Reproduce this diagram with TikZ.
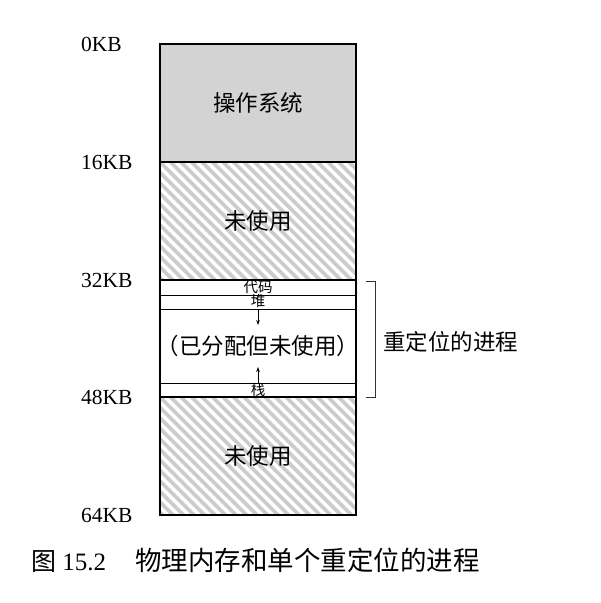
\documentclass[tikz,border=0pt]{standalone}
\usepackage{fontspec}
\usetikzlibrary{arrows.meta}
\setmainfont{Liberation Serif}
\newfontfamily\cjk{Noto Sans CJK SC}
\definecolor{osgray}{RGB}{211,211,211}
\definecolor{hatchgray}{RGB}{204,204,204}
\begin{document}
\begin{tikzpicture}[>={Stealth[length=5pt,width=3.6pt]}, x=1pt, y=-1pt,
    region/.style={draw, line width=1.5pt, minimum width=196pt, minimum height=118pt,
      inner sep=0pt, font=\cjk\fontsize{22.5}{22.5}\selectfont},
    hatched/.style={path picture={
      \foreach \i in {-126,-115.5,...,200}
        \draw[hatchgray, line width=3.6pt] ([xshift=\i pt]path picture bounding box.north west) -- ++(130,130);}},
    band/.style={draw, line width=0.6pt, minimum width=196pt, inner sep=0pt},
    big/.style={inner sep=0pt, font=\cjk\fontsize{22.5}{22.5}\selectfont},
    small/.style={inner sep=0pt, font=\cjk\fontsize{14.5}{14.5}\selectfont},
    addr/.style={anchor=west, inner sep=0pt, font=\fontsize{21.5}{21.5}\selectfont}]
    \useasboundingbox (0,0) rectangle (601,603);

    % memory regions
    \node[region, fill=osgray] (os) at (258,103) {操作系统};
    \node[region, hatched] (free1) at (258,221) {未使用};
    \node[band, minimum height=15pt] (code) at (258,287.5) {};
    \node[band, minimum height=14pt] (heap) at (258,302) {};
    \node[band, minimum height=14pt] (stack) at (258,390) {};
    \node[region, minimum height=117pt] (proc) at (258,338.5) {};
    \node[region, hatched] (free2) at (258,456) {未使用};

    \node[big] (proctext) at (258,346) {（已分配但未使用）};
    \node[small] (codelbl) at (258,287) {代码};
    \node[small] (heaplbl) at (258,301) {堆};
    \node[small] (stacklbl) at (258,390) {栈};

    % growth arrows
    \coordinate (heaptip) at (258,325);
    \coordinate (stacktip) at (258,367);
    \draw[->, line width=0.6pt] (heap.south) -- (heaptip);
    \draw[->, line width=0.6pt] (stack.north) -- (stacktip);

    % addresses
    \foreach \kb/\y in {0/44,16/162,32/280,48/397,64/515}
        \node[addr] (a\kb) at (81,\y) {\kb KB};

    % bracket for the process
    \coordinate (brtop) at (366,281);
    \coordinate (brbot) at (366,397);
    \draw[line width=0.7pt, black!80] (brtop) -- ++(9,0) |- (brbot);
    \node[anchor=west, inner sep=0pt, font=\cjk\fontsize{22.5}{22.5}\selectfont] (proclbl) at (383,342) {重定位的进程};

    % caption
    \node[anchor=west, inner sep=0pt, font=\fontsize{25}{25}\selectfont] (cap) at (31,560)
        {{\cjk 图} 15.2\hspace{29pt}{\cjk\fontsize{26.5}{26.5}\selectfont 物理内存和单个重定位的进程}};
\end{tikzpicture}
\end{document}
